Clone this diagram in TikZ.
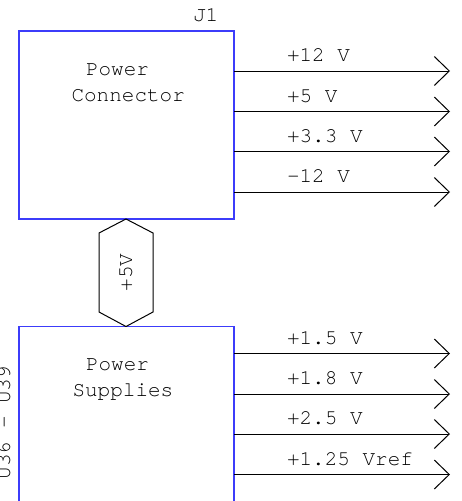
\documentclass[tikz,border=0pt]{standalone}
\usepackage{fontspec}
\setmonofont{texgyrecursor}[Extension=.otf, UprightFont=*-regular]
\usetikzlibrary{arrows.meta}
\definecolor{boxblue}{RGB}{60,60,250}
\begin{document}
\begin{tikzpicture}[x=1pt,y=-1pt,
  txt/.style={font=\ttfamily\fontsize{21}{25}\selectfont, inner sep=0pt, outer sep=0pt},
  lbl/.style={txt, anchor=base west},
  blk/.style={draw=boxblue, line width=1.2pt, minimum width=215pt, inner sep=0pt, outer sep=0pt},
  sig/.style={draw=black, line width=1pt, -{Straight Barb[length=15pt,width=29pt,line width=1pt]}},
  hexa/.style={draw=black, line width=1pt}]
\useasboundingbox (0,0) rectangle (461,501);
\clip (0,0) rectangle (461,501);
\fill[white] (0,0) rectangle (461,501);
% boxes
\node[blk, minimum height=188pt] (pc) at (126.5,125) {};
\node[blk, minimum height=200pt] (ps) at (126.5,426.5) {};
% box texts
\node[lbl] (j1) at (193,21) {J1};
\node[lbl] (pw1) at (86,75.5) {Power};
\node[lbl] (con) at (71.5,101.5) {Connector};
\node[lbl] (pw2) at (86,370.5) {Power};
\node[lbl] (sup) at (72.5,396.5) {Supplies};
\node[txt, anchor=base, rotate=90] (u36) at (10,422.5) {U36 - U39};
% hexagon link
\node[txt, anchor=base, rotate=90] (v5) at (132,272.5) {+5V};
\draw[hexa] (126,219) -- (153,233) -- (153,312) -- (126,326.5) -- (99,312) -- (99,233) -- cycle;
% output coordinates
\coordinate (a1) at (450,71);
\coordinate (a2) at (450,111.5);
\coordinate (a3) at (450,151.5);
\coordinate (a4) at (450,192);
\coordinate (b1) at (450,353.5);
\coordinate (b2) at (450,394);
\coordinate (b3) at (450,434);
\coordinate (b4) at (450,474.5);
\draw[sig] (pc.east |- a1) -- (a1);
\draw[sig] (pc.east |- a2) -- (a2);
\draw[sig] (pc.east |- a3) -- (a3);
\draw[sig] (pc.east |- a4) -- (a4);
\draw[sig] (ps.east |- b1) -- (b1);
\draw[sig] (ps.east |- b2) -- (b2);
\draw[sig] (ps.east |- b3) -- (b3);
\draw[sig] (ps.east |- b4) -- (b4);
% output labels
\node[lbl] (l1) at (287,61.5) {+12 V};
\node[lbl] (l2) at (287,102.5) {+5 V};
\node[lbl] (l3) at (287,142.5) {+3.3 V};
\node[lbl] (l4) at (287,182) {–12 V};
\node[lbl] (m1) at (287,344) {+1.5 V};
\node[lbl] (m2) at (287,384.5) {+1.8 V};
\node[lbl] (m3) at (287,424.5) {+2.5 V};
\node[lbl] (m4) at (287,465) {+1.25 Vref};
\end{tikzpicture}
\end{document}
